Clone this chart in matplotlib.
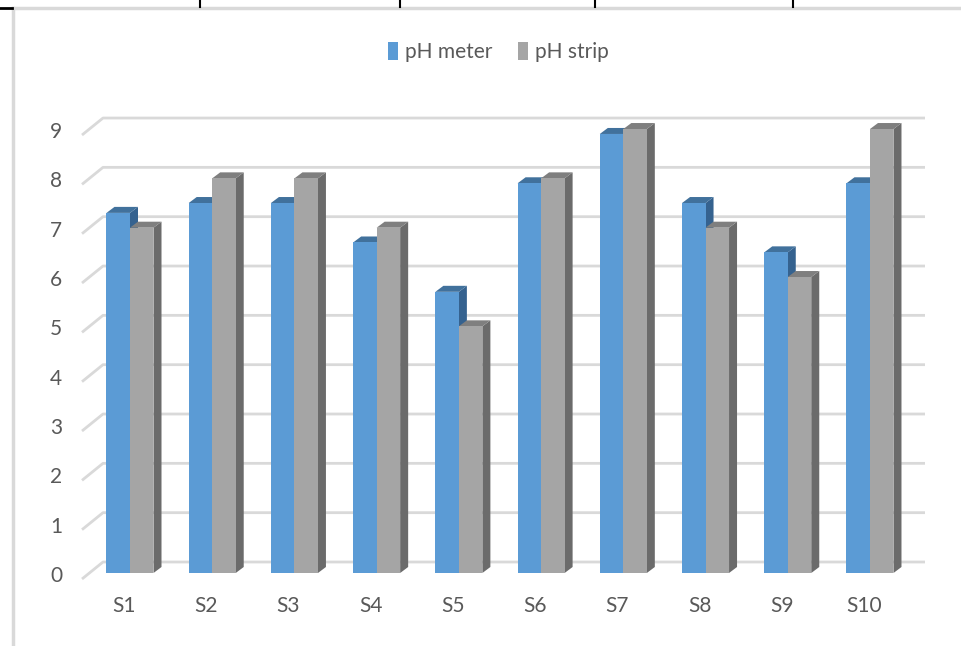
import numpy as np
import matplotlib.pyplot as plt
from matplotlib.patches import Polygon, Patch
from matplotlib.lines import Line2D

plt.rcParams['font.family'] = ['Lato', 'DejaVu Sans']

categorias = ["S1", "S2", "S3", "S4", "S5", "S6", "S7", "S8", "S9", "S10"]
ph_meter = [7.3, 7.5, 7.5, 6.7, 5.7, 7.9, 8.9, 7.5, 6.5, 7.9]
ph_strip = [7.0, 8.0, 8.0, 7.0, 5.0, 8.0, 9.0, 7.0, 6.0, 9.0]
yticks = [0, 1, 2, 3, 4, 5, 6, 7, 8, 9]

# cores (frente, topo, lado)
azul = ("#5B9BD5", "#41719C", "#35628F")
cinza = ("#A5A5A5", "#7F7F7F", "#6B6B6B")

W, H = 962, 646
px_x = 82.22   # pixels por categoria
px_y = 49.33   # pixels por unidade de pH
x0_px, y0_px = 130, 573

fig = plt.figure(figsize=(W / 100, H / 100), dpi=100)
ax = fig.add_axes([0, 0, 1, 1])
ax.set_xlim(-x0_px / px_x, (W - x0_px) / px_x)
ax.set_ylim(-(H - y0_px) / px_y, y0_px / px_y)
ax.axis("off")

# profundidade das barras e da parede
bdx, bdy = 8 / px_x, 6 / px_y
wall_front = -6 / px_y
wall_back = 11 / px_y
wx_front = (82 - x0_px) / px_x
wx_back = (103 - x0_px) / px_x
wx_end = (925 - x0_px) / px_x

# grade (parede do fundo + linha diagonal lateral)
for v in yticks:
    ax.plot([wx_front, wx_back, wx_end], [v + wall_front, v + wall_back, v + wall_back],
            color="#D9D9D9", lw=2, zorder=1, solid_capstyle="butt")
    ax.text(wx_front - 26 / px_x, v + wall_front + 3 / px_y, str(v),
            ha="center", va="center", fontsize=15, color="#595959")

largura = 23.5 / px_x


def barra3d(x_esq, v, cores, z):
    x_dir = x_esq + largura
    frente, topo, lado = cores
    ax.add_patch(Polygon([(x_dir, 0), (x_dir + bdx, bdy), (x_dir + bdx, v + bdy), (x_dir, v)],
                         closed=True, facecolor=lado, edgecolor="none", zorder=z))
    ax.add_patch(Polygon([(x_esq, v), (x_esq + bdx, v + bdy), (x_dir + bdx, v + bdy), (x_dir, v)],
                         closed=True, facecolor=topo, edgecolor="none", zorder=z))
    ax.add_patch(Polygon([(x_esq, 0), (x_dir, 0), (x_dir, v), (x_esq, v)],
                         closed=True, facecolor=frente, edgecolor="none", zorder=z + 0.5))


for i, cat in enumerate(categorias):
    barra3d(i - largura, ph_meter[i], azul, 3 + i)
    barra3d(i, ph_strip[i], cinza, 3.6 + i)
    ax.text(i - 6 / px_x, -33 / px_y, cat, ha="center", va="center",
            fontsize=15, color="#595959")

handles = [Patch(facecolor=azul[0], label="pH meter"),
           Patch(facecolor=cinza[0], label="pH strip")]
fig.legend(handles=handles, loc="center", bbox_to_anchor=(0.518, 0.919), ncol=2,
           frameon=False, fontsize=15, handlelength=0.5, handleheight=0.9,
           handletextpad=0.35, columnspacing=1.2, labelcolor="#595959")

# bordas da planilha
fig.add_artist(Line2D([13 / W, 1], [1 - 8 / H, 1 - 8 / H], color="#D9D9D9", lw=2.5))
fig.add_artist(Line2D([13 / W, 13 / W], [0, 1 - 8 / H], color="#D9D9D9", lw=2.5))
fig.add_artist(Line2D([0, 12 / W], [1 - 8 / H, 1 - 8 / H], color="black", lw=2))
for xt in [200, 400, 595, 793]:
    fig.add_artist(Line2D([xt / W, xt / W], [1, 1 - 7 / H], color="black", lw=1.5))

fig.savefig("out.png", dpi=100)
